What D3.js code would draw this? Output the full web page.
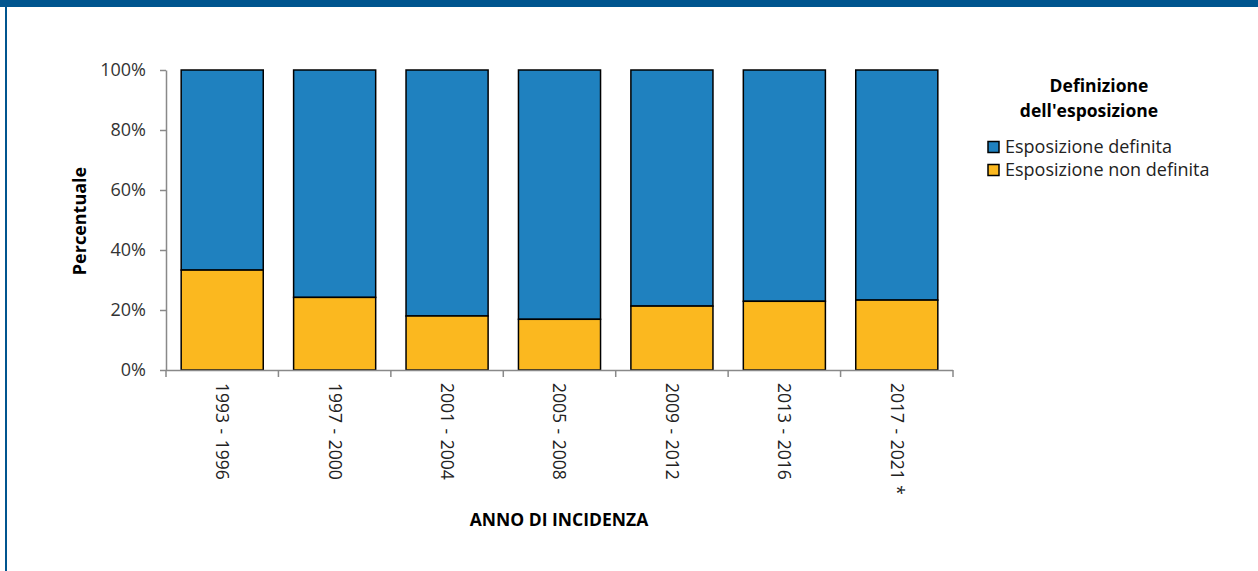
<!DOCTYPE html>
<html>
<head>
<meta charset="utf-8">
<script src="https://cdn.jsdelivr.net/npm/d3@7"></script>
<style>
  body { margin: 0; background: #fff; }
  svg { display: block; font-family: "Open Sans", Lato, sans-serif; }
</style>
</head>
<body>
<svg id="chart" width="1258" height="571"></svg>
<script>
// data
const periods = ["1993 - 1996", "1997 - 2000", "2001 - 2004", "2005 - 2008", "2009 - 2012", "2013 - 2016", "2017 - 2021 *"];
const nonDefinita = [33.3, 24.2, 18.0, 16.9, 21.3, 22.9, 23.3];
const definita = nonDefinita.map(v => 100 - v);
const seriesNames = ["Esposizione definita", "Esposizione non definita"];
const seriesColors = ["#1f81bf", "#fbb81f"];
const yTicks = [0, 20, 40, 60, 80, 100];

const svg = d3.select("#chart");

// frame: top band + left border
svg.append("rect").attr("x", 0).attr("y", 0).attr("width", 1258).attr("height", 7).attr("fill", "#00558f");
svg.append("rect").attr("x", 5).attr("y", 0).attr("width", 2).attr("height", 571).attr("fill", "#00558f");

const x = d3.scaleBand()
    .domain(periods)
    .range([166, 953])
    .paddingInner(0.27)
    .paddingOuter(0.135);

const y = d3.scaleLinear()
    .domain([0, 100])
    .range([370, 70]);

const rows = periods.map((p, i) => ({period: p, nd: nonDefinita[i], d: definita[i]}));

// bars
const g = svg.append("g");
g.selectAll("rect.def")
    .data(rows)
    .enter()
    .append("rect")
      .attr("class", "def")
      .attr("x", d => x(d.period))
      .attr("y", d => y(d.nd + d.d))
      .attr("width", x.bandwidth())
      .attr("height", d => y(d.nd) - y(d.nd + d.d))
      .attr("fill", seriesColors[0])
      .attr("stroke", "#000")
      .attr("stroke-width", 1.5);
g.selectAll("rect.nd")
    .data(rows)
    .enter()
    .append("rect")
      .attr("class", "nd")
      .attr("x", d => x(d.period))
      .attr("y", d => y(d.nd))
      .attr("width", x.bandwidth())
      .attr("height", d => y(0) - y(d.nd))
      .attr("fill", seriesColors[1])
      .attr("stroke", "#000")
      .attr("stroke-width", 1.5);

// y axis
const yAxis = svg.append("g")
    .attr("transform", "translate(166,0)")
    .call(d3.axisLeft(y).tickValues(yTicks).tickFormat(d => d + "%").tickSize(6).tickSizeOuter(0).tickPadding(14));
yAxis.select(".domain").attr("stroke", "#898989").attr("stroke-width", 1.5);
yAxis.selectAll(".tick line").attr("stroke", "#898989").attr("stroke-width", 1.5);
yAxis.selectAll("text")
    .style("font-family", "'Open Sans', sans-serif")
    .style("font-size", "18px")
    .attr("fill", "#333");

// x axis: category boundaries as ticks
const xLine = svg.append("g");
xLine.append("line")
    .attr("x1", 166).attr("x2", 953)
    .attr("y1", 370.5).attr("y2", 370.5)
    .attr("stroke", "#898989").attr("stroke-width", 1.5);
xLine.selectAll("line.tk")
    .data(d3.range(periods.length + 1).map(i => 166 + i * (953 - 166) / periods.length))
    .enter()
    .append("line")
      .attr("class", "tk")
      .attr("x1", d => d).attr("x2", d => d)
      .attr("y1", 370).attr("y2", 377)
      .attr("stroke", "#898989").attr("stroke-width", 1.5);

svg.append("g").selectAll("text")
    .data(periods)
    .enter()
    .append("text")
      .attr("transform", d => "translate(" + (x(d) + x.bandwidth() / 2) + ",383) rotate(90)")
      .attr("dy", "0.35em")
      .attr("text-anchor", "start")
      .style("font-size", "17.5px")
      .style("word-spacing", "1px")
      .attr("fill", "#222")
      .text(d => d);

// axis titles
svg.append("text")
    .attr("transform", "translate(80,221) rotate(-90)")
    .attr("text-anchor", "middle")
    .attr("dy", "0.35em")
    .style("font-size", "18px")
    .style("font-weight", "bold")
    .text("Percentuale");

svg.append("text")
    .attr("x", 559)
    .attr("y", 520)
    .attr("text-anchor", "middle")
    .attr("dy", "0.35em")
    .style("font-size", "17.5px")
    .style("font-weight", "bold")
    .text("ANNO DI INCIDENZA");

// legend
const legend = svg.append("g");
legend.append("text")
    .attr("x", 1099).attr("y", 86)
    .attr("text-anchor", "middle").attr("dy", "0.35em")
    .style("font-size", "17.5px").style("font-weight", "bold")
    .text("Definizione");
legend.append("text")
    .attr("x", 1089).attr("y", 111)
    .attr("text-anchor", "middle").attr("dy", "0.35em")
    .style("font-size", "17.5px").style("font-weight", "bold")
    .text("dell'esposizione");

const items = legend.selectAll("g.item")
    .data(seriesNames)
    .enter()
    .append("g")
      .attr("class", "item")
      .attr("transform", (d, i) => "translate(988," + (147 + i * 23) + ")");
items.append("rect")
    .attr("x", 0).attr("y", -5.5)
    .attr("width", 11).attr("height", 11)
    .attr("fill", (d, i) => seriesColors[i])
    .attr("stroke", "#000").attr("stroke-width", 1.5);
items.append("text")
    .attr("x", 17)
    .attr("dy", "0.35em")
    .style("font-size", "18px")
    .attr("fill", "#222")
    .text(d => d);
</script>
</body>
</html>
